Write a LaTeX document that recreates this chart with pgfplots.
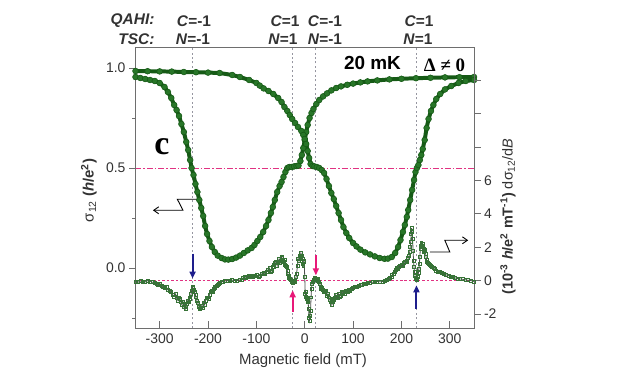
\documentclass[border=0pt]{standalone}
\usepackage{pgfplots}
\pgfplotsset{compat=1.18}
\usepackage{fontspec}
\setmainfont{Liberation Sans}
\newfontfamily\serifb{Liberation Serif}
\usetikzlibrary{arrows.meta}
\definecolor{dkg}{RGB}{22,90,22}
\definecolor{midg}{RGB}{40,118,40}
\definecolor{dgreen}{RGB}{55,115,55}
\definecolor{axgray}{RGB}{110,110,110}
\definecolor{dotgray}{RGB}{150,150,160}
\definecolor{txtgray}{RGB}{50,50,50}
\definecolor{pinkl}{RGB}{225,50,130}
\definecolor{pinka}{RGB}{232,25,120}
\definecolor{bluea}{RGB}{30,30,140}
\definecolor{derivln}{RGB}{75,80,75}

\pgfplotstableread{
x s
-350 0.955
-340 0.950
-330 0.945
-320 0.940
-310 0.935
-300 0.925
-290 0.905
-283 0.880
-276 0.850
-270 0.815
-265 0.790
-260 0.760
-255 0.720
-250 0.680
-245 0.630
-241 0.590
-237 0.540
-234 0.500
-230 0.465
-226 0.420
-222 0.380
-218 0.340
-214 0.300
-210 0.260
-206 0.210
-202 0.170
-197 0.135
-192 0.105
-186 0.080
-180 0.062
-172 0.050
-165 0.043
-158 0.042
-150 0.045
-142 0.052
-134 0.062
-126 0.075
-118 0.088
-110 0.100
-104 0.115
-98 0.135
-92 0.155
-86 0.180
-80 0.210
-75 0.240
-70 0.275
-66 0.305
-62 0.340
-57 0.380
-52 0.410
-48 0.430
-44 0.455
-40 0.480
-36 0.500
-32 0.505
-27 0.505
-22 0.508
-17 0.510
-13 0.512
-9 0.535
-6 0.565
-3 0.600
0 0.640
3 0.680
6 0.715
10 0.750
14 0.775
18 0.795
24 0.820
30 0.840
38 0.858
46 0.873
55 0.888
65 0.900
75 0.908
88 0.916
100 0.922
115 0.928
130 0.933
150 0.938
175 0.943
200 0.946
230 0.949
260 0.951
290 0.953
320 0.954
350 0.955
}\branchA

\pgfplotstableread{
x s
-350 0.985
-325 0.984
-300 0.983
-275 0.982
-250 0.980
-225 0.979
-200 0.977
-176 0.975
-150 0.965
-134 0.955
-115 0.940
-100 0.925
-93 0.912
-85 0.898
-75 0.885
-65 0.870
-55 0.850
-48 0.830
-42 0.805
-36 0.785
-31 0.765
-26 0.745
-20 0.725
-14 0.705
-7 0.685
-3 0.665
0 0.645
3 0.620
6 0.585
9 0.550
12 0.520
16 0.510
20 0.508
25 0.505
30 0.500
35 0.490
40 0.475
45 0.445
50 0.410
55 0.375
60 0.345
65 0.310
70 0.275
75 0.240
80 0.205
86 0.175
92 0.150
100 0.125
107 0.108
115 0.092
125 0.078
135 0.068
145 0.058
155 0.050
165 0.046
172 0.047
180 0.055
187 0.075
193 0.105
198 0.140
203 0.180
207 0.215
211 0.255
214 0.290
218 0.340
222 0.390
226 0.440
229 0.480
232 0.500
235 0.515
238 0.540
241 0.565
244 0.595
248 0.640
252 0.700
256 0.745
261 0.785
266 0.815
272 0.845
280 0.870
290 0.893
303 0.910
318 0.925
333 0.935
350 0.940
}\branchB

\pgfplotstableread{
x d
-350 -0.05
-345 -0.10
-340 -0.02
-335 -0.06
-330 -0.08
-325 0.00
-320 -0.05
-315 -0.10
-310 -0.12
-306 -0.18
-303 -0.26
-299 -0.20
-296 -0.30
-293 -0.38
-290 -0.45
-286 -0.40
-283 -0.56
-279 -0.62
-276 -0.70
-273 -0.85
-270 -0.95
-267 -0.80
-265 -1.05
-262 -1.20
-260 -1.00
-258 -1.10
-256 -1.30
-254 -1.45
-252 -1.25
-250 -1.55
-248 -1.40
-247 -1.70
-245 -1.55
-244 -1.40
-242 -1.20
-240 -1.30
-238 -1.10
-237 -1.00
-235 -0.80
-234 -0.60
-232 -0.40
-231 -0.45
-229 -0.55
-228 -0.70
-226 -0.85
-225 -1.00
-223 -1.20
-221 -1.35
-219 -1.55
-217 -1.70
-215 -1.60
-213 -1.50
-211 -1.65
-209 -1.30
-207 -1.45
-205 -1.20
-203 -1.05
-201 -1.00
-199 -1.10
-197 -0.85
-195 -0.70
-193 -0.60
-191 -0.70
-189 -0.50
-187 -0.45
-185 -0.40
-182 -0.30
-180 -0.25
-177 -0.20
-175 -0.15
-172 -0.10
-170 -0.05
-165 -0.02
-160 0.00
-155 -0.03
-150 0.02
-145 0.01
-140 0.00
-135 0.03
-131 0.05
-128 0.15
-124 0.25
-121 0.18
-118 0.20
-115 0.28
-112 0.30
-110 0.20
-107 0.22
-104 0.30
-100 0.35
-96 0.25
-92 0.30
-89 0.40
-85 0.45
-82 0.38
-78 0.55
-76 0.65
-73 0.75
-71 0.50
-69 0.60
-67 0.80
-65 0.95
-63 0.85
-61 1.05
-59 1.10
-57 0.90
-55 1.15
-53 1.30
-51 1.05
-50 1.20
-48 1.45
-47 1.35
-45 1.20
-44 1.10
-42 1.25
-41 0.95
-39 0.90
-38 0.80
-36 0.60
-35 0.40
-33 0.30
-32 0.15
-30 0.10
-29 0.05
-27 0.00
-26 -0.05
-24 -0.15
-23 -0.10
-21 -0.05
-20 0.00
-18 0.20
-17 0.40
-15 0.90
-14 1.30
-12 1.20
-11 1.50
-9 1.40
-8 1.65
-6 1.50
-5 1.30
-4 1.00
-3 0.90
-2 1.20
-1 1.10
0 0.20
1 -0.80
2 -0.70
3 -0.95
4 -1.10
5 -1.00
6 -1.20
7 -1.30
8 -1.70
9 -2.20
10 -2.40
11 -2.10
12 -1.80
13 -1.00
14 -0.50
15 -0.20
16 -0.10
18 0.05
19 0.05
21 0.15
22 0.10
24 0.12
25 0.05
27 0.08
28 0.00
30 -0.10
31 -0.20
33 -0.35
34 -0.50
36 -0.45
38 -0.55
40 -0.65
42 -0.70
44 -0.60
46 -0.90
48 -0.80
50 -1.00
52 -1.15
53 -1.30
55 -1.20
56 -1.45
58 -1.30
59 -1.10
61 -1.15
62 -1.00
64 -0.85
66 -0.95
68 -1.05
70 -0.80
72 -0.95
74 -0.90
77 -0.70
79 -0.75
82 -0.80
84 -0.60
87 -0.65
89 -0.70
91 -0.55
93 -0.60
97 -0.50
100 -0.45
104 -0.40
107 -0.35
111 -0.30
115 -0.25
118 -0.28
122 -0.20
126 -0.18
130 -0.15
135 -0.12
140 -0.10
145 -0.08
150 -0.05
156 -0.07
162 -0.05
166 0.00
170 0.05
173 0.10
176 0.15
179 0.25
181 0.35
184 0.40
186 0.55
188 0.65
190 0.75
192 0.70
195 0.80
197 0.90
200 0.95
202 0.90
205 1.05
207 1.15
210 1.20
212 1.10
214 1.35
216 1.50
217 1.70
218 2.00
219 2.30
220 2.80
221 3.15
222 2.90
223 2.50
224 1.80
225 1.20
226 0.80
227 0.50
228 0.30
229 0.15
230 0.08
231 0.05
232 0.10
233 0.20
234 0.30
235 0.45
236 0.70
237 1.00
238 1.40
239 1.90
240 2.10
241 2.25
242 2.10
243 2.00
244 2.20
245 2.10
246 1.90
247 1.70
248 1.85
249 1.80
250 1.60
251 1.40
252 1.25
253 1.15
255 1.05
256 1.00
258 0.95
260 0.90
263 0.80
266 0.75
269 0.68
272 0.60
276 0.55
280 0.50
284 0.45
288 0.40
292 0.35
297 0.30
301 0.25
306 0.20
311 0.16
316 0.12
321 0.10
326 0.08
332 0.05
338 0.02
344 0.00
350 -0.05
}\deriv

\begin{document}
\begin{tikzpicture}
\pgfplotsset{
  common/.style={
    at={(135.5bp,57bp)}, anchor=south west,
    scale only axis, width=338.5bp, height=281bp,
    xmin=-350, xmax=350,
    axis line style={draw=axgray, line width=0.8pt},
    every tick/.style={draw=axgray, line width=0.8pt},
    major tick length=6.5bp, minor tick length=3.5bp,
    /pgf/number format/assume math mode=true,
    tick label style={font=\fontsize{14}{14}\selectfont, text=txtgray},
    clip=false,
  }
}
\begin{axis}[common,
  ymin=-0.30, ymax=1.105,
  xtick={-300,-200,-100,0,100,200,300},
  xticklabels={-300,-200,-100,0,100,200,300},
  xtick pos=bottom, xtick align=inside,
  ytick={0,0.5,1},
  yticklabels={0.0,0.5,1.0},
  minor ytick={-0.25,0.25,0.75},
  ytick pos=left, ytick align=outside,
  xticklabel style={yshift=-2bp},
]
\foreach \xv in {-232,-25,23,231}{
  \edef\tmp{\noexpand\draw[dotgray, dash pattern=on 2pt off 2.5pt, line width=0.9pt] (axis cs:\xv,-0.30) -- (axis cs:\xv,1.105);}
  \tmp
}
\draw[pinkl, dash pattern=on 6pt off 2pt on 1.5pt off 2pt, line width=0.9pt] (axis cs:-350,0.5) -- (axis cs:350,0.5);
\addplot[draw=dkg, line width=4pt, mark=*, mark size=2.9pt, mark options={fill=midg, draw=dkg, line width=0.6pt}] table[x=x,y=s] {\branchA};
\addplot[draw=dkg, line width=4pt, mark=*, mark size=2.9pt, mark options={fill=midg, draw=dkg, line width=0.6pt}] table[x=x,y=s] {\branchB};
% zigzag arrows
\draw[black, line width=0.9pt, -{Straight Barb[length=5pt,width=7pt]}] (axis cs:-220.8,0.3435) -- (axis cs:-263.4,0.3435) -- (axis cs:-251.8,0.2885) -- (axis cs:-313.9,0.2885);
\draw[black, line width=0.9pt, -{Straight Barb[length=5pt,width=7pt]}] (axis cs:258.6,0.08) -- (axis cs:300,0.08) -- (axis cs:289.7,0.1385) -- (axis cs:337.9,0.1385);
% colored arrows
\draw[bluea, line width=2pt, -{Triangle[length=7pt,width=6pt]}] (axis cs:-232,0.072) -- (axis cs:-232,-0.053);
\draw[pinka, line width=2pt, -{Triangle[length=7pt,width=6pt]}] (axis cs:-25,-0.22) -- (axis cs:-25,-0.1115);
\draw[pinka, line width=2pt, -{Triangle[length=7pt,width=6pt]}] (axis cs:23,0.0635) -- (axis cs:23,-0.0365);
\draw[bluea, line width=2pt, -{Triangle[length=7pt,width=6pt]}] (axis cs:231,-0.203) -- (axis cs:231,-0.0865);
\end{axis}
\begin{axis}[common,
  ymin=-2.84, ymax=14.0,
  axis x line=none,
  axis y line*=right,
  ytick={-2,0,2,4,6,8,10,12},
  yticklabels={-2,0,2,4,6,{},{},{}},
  ytick align=outside,
]
\draw[pinkl, dash pattern=on 2.5pt off 2pt, line width=0.9pt] (axis cs:-350,0) -- (axis cs:350,0);
\addplot[draw=derivln, line width=0.8pt, mark=square, mark size=1.5pt, mark options={draw=dgreen, solid, line width=0.6pt}] table[x=x,y=d] {\deriv};
\end{axis}
\begin{scope}[x=1bp, y=-1bp, yshift=385bp]
\begin{scope}[font=\fontsize{15.5}{15.5}\selectfont\bfseries, text=txtgray]
\node[anchor=east] at (158,21) {\itshape QAHI:};
\node[anchor=east] at (158,39) {\itshape TSC:};
\node at (194,21) {\textit{C}=-1};
\node at (285,21) {\textit{C}=1};
\node at (325,21) {\textit{C}=-1};
\node at (419,21) {\textit{C}=1};
\node at (193,39) {\textit{N}=-1};
\node at (283,39) {\textit{N}=1};
\node at (325,39) {\textit{N}=-1};
\node at (418,39) {\textit{N}=1};
\end{scope}
\node[font=\fontsize{15}{15}\selectfont, text=txtgray] at (303,361) {Magnetic field (mT)};
\node[font=\fontsize{19}{19}\selectfont\bfseries] at (372.5,63) {20 mK};
\node[font=\fontsize{19}{19}\selectfont\serifb\bfseries] at (444.5,65) {Δ ≠ 0};
\node[font=\fontsize{34}{34}\selectfont\serifb\bfseries] at (162,147) {c};
\node[rotate=90, font=\fontsize{15}{15}\selectfont, text=txtgray] at (89,190.5) {σ\textsubscript{12} \textbf{(\textit{h}/e\textsuperscript{2})}};
\node[rotate=90, font=\fontsize{14.5}{14.5}\selectfont, text=txtgray] at (508,216.5) {\textbf{(10\textsuperscript{-3} \textit{h}/e\textsuperscript{2} mT\textsuperscript{-1})} dσ\textsubscript{12}/d\textit{B}};
\end{scope}
\pgfresetboundingbox
\path[use as bounding box] (0,0) rectangle (623bp,385bp);
\end{tikzpicture}
\end{document}
